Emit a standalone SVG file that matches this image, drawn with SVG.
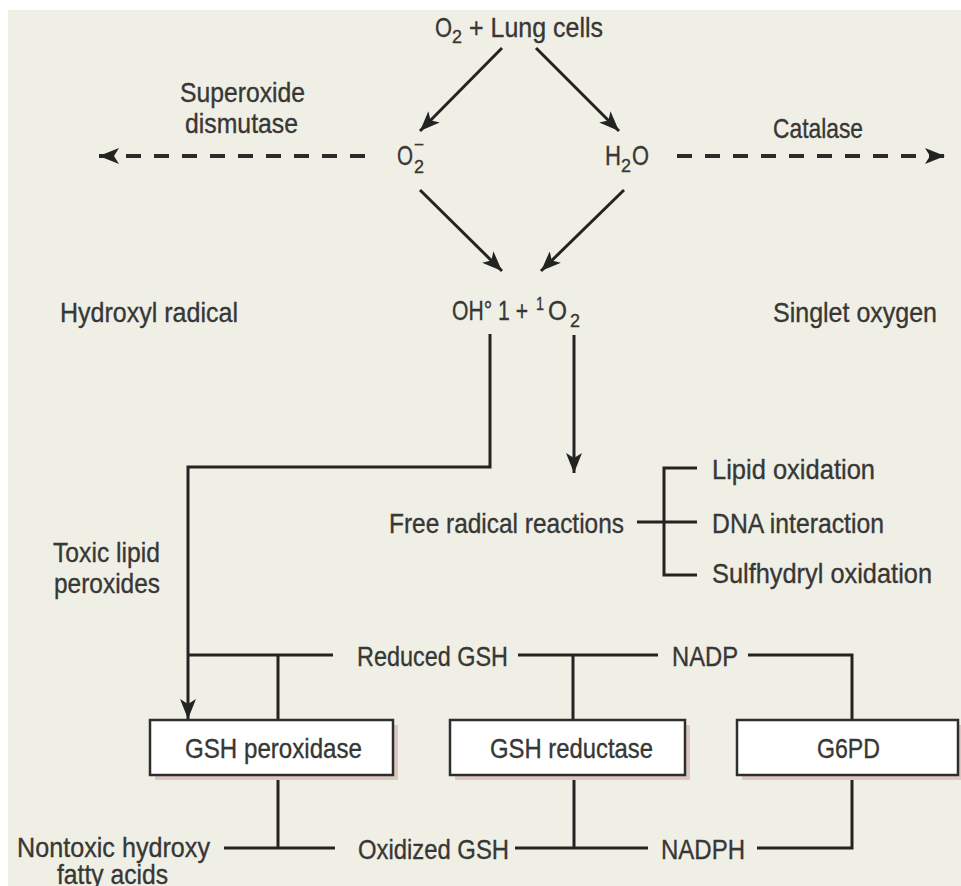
<svg xmlns="http://www.w3.org/2000/svg" width="961" height="886" viewBox="0 0 961 886">
  <defs>
    <style>
      .t { font-family: "Liberation Sans", Arial, sans-serif; font-size: 28px; fill: #373735; stroke: #373735; stroke-width: 0.35px; }
      .s { font-size: 19px; }
      .ln { fill: none; stroke: #232321; stroke-width: 3; }
      .dash { fill: none; stroke: #2a2a28; stroke-width: 4; stroke-dasharray: 15 13; }
      .box { fill: #ffffff; stroke: #2e2e2c; stroke-width: 2.5; }
      .shadow { fill: #dcc7c2; }
    </style>
    <marker id="ah" viewBox="0 0 20 16" refX="20" refY="8" markerWidth="20" markerHeight="16" orient="auto" markerUnits="userSpaceOnUse">
      <path d="M0,0 L20,8 L0,16 L5,8 z" fill="#232321"/>
    </marker>
  </defs>

  <!-- page -->
  <rect x="0" y="0" width="961" height="886" fill="#ffffff"/>
  <rect x="8" y="10" width="953" height="876" fill="#f0efe6"/>

  <!-- connectors -->
  <g id="connectors">
    <path class="ln" d="M502,48 L420,131" marker-end="url(#ah)"/>
    <path class="ln" d="M536,48 L619,131" marker-end="url(#ah)"/>
    <path class="ln" d="M420,190 L502,271" marker-end="url(#ah)"/>
    <path class="ln" d="M624,190 L541,271" marker-end="url(#ah)"/>
    <path class="dash" d="M365,156 L99,156" marker-end="url(#ah)"/>
    <path class="dash" d="M677,156 L945,156" marker-end="url(#ah)"/>
    <path class="ln" d="M574,335 L574,473" marker-end="url(#ah)"/>
    <path class="ln" d="M490,334 L490,467 L188,467 L188,719" marker-end="url(#ah)"/>
    <!-- free radical bracket -->
    <path class="ln" d="M637,522 L697,522"/>
    <path class="ln" d="M697,468 L664,468 L664,575 L697,575"/>
    <!-- reduced GSH / NADP line -->
    <path class="ln" d="M188,655 L333,655"/>
    <path class="ln" d="M278,655 L278,720"/>
    <path class="ln" d="M518,655 L658,655"/>
    <path class="ln" d="M573,655 L573,720"/>
    <path class="ln" d="M748,655 L852,655 L852,720"/>
    <!-- oxidized GSH / NADPH line -->
    <path class="ln" d="M224,848 L335,848"/>
    <path class="ln" d="M278,775 L278,848"/>
    <path class="ln" d="M515,848 L648,848"/>
    <path class="ln" d="M574,775 L574,848"/>
    <path class="ln" d="M757,848 L852,848 L852,775"/>
  </g>

  <!-- top reactants -->
  <g id="o2-lung">
    <text class="t" x="435" y="37" textLength="17" lengthAdjust="spacingAndGlyphs">O</text>
    <text class="t s" x="452" y="43" textLength="10" lengthAdjust="spacingAndGlyphs">2</text>
    <text class="t" x="469" y="37" textLength="134" lengthAdjust="spacingAndGlyphs">+ Lung cells</text>
  </g>
  <g id="superoxide">
    <text class="t" x="397" y="165" textLength="16" lengthAdjust="spacingAndGlyphs">O</text>
    <text class="t s" x="414" y="173" textLength="10" lengthAdjust="spacingAndGlyphs">2</text>
    <text class="t s" x="414" y="151" textLength="10" lengthAdjust="spacingAndGlyphs">−</text>
  </g>
  <g id="water">
    <text class="t" x="605" y="165" textLength="16" lengthAdjust="spacingAndGlyphs">H</text>
    <text class="t s" x="621" y="172" textLength="10" lengthAdjust="spacingAndGlyphs">2</text>
    <text class="t" x="632" y="165" textLength="17" lengthAdjust="spacingAndGlyphs">O</text>
  </g>
  <g id="sod">
    <text class="t" x="180" y="102" textLength="125" lengthAdjust="spacingAndGlyphs">Superoxide</text>
    <text class="t" x="185" y="133" textLength="113" lengthAdjust="spacingAndGlyphs">dismutase</text>
  </g>
  <g id="catalase">
    <text class="t" x="773" y="138" textLength="90" lengthAdjust="spacingAndGlyphs">Catalase</text>
  </g>

  <!-- radicals -->
  <g id="radicals">
    <text class="t" x="452" y="320" textLength="76" lengthAdjust="spacingAndGlyphs">OH° 1 +</text>
    <text class="t s" x="536" y="310" textLength="8" lengthAdjust="spacingAndGlyphs">1</text>
    <text class="t" x="548" y="320" textLength="19" lengthAdjust="spacingAndGlyphs">O</text>
    <text class="t s" x="570" y="327" textLength="10" lengthAdjust="spacingAndGlyphs">2</text>
  </g>
  <g id="hydroxyl">
    <text class="t" x="60" y="322" textLength="178" lengthAdjust="spacingAndGlyphs">Hydroxyl radical</text>
  </g>
  <g id="singlet">
    <text class="t" x="773" y="322" textLength="164" lengthAdjust="spacingAndGlyphs">Singlet oxygen</text>
  </g>

  <!-- free radical reactions -->
  <g id="free-radical">
    <text class="t" x="389" y="533" textLength="235" lengthAdjust="spacingAndGlyphs">Free radical reactions</text>
  </g>
  <g id="effects">
    <text class="t" x="712" y="479" textLength="163" lengthAdjust="spacingAndGlyphs">Lipid oxidation</text>
    <text class="t" x="712" y="533" textLength="172" lengthAdjust="spacingAndGlyphs">DNA interaction</text>
    <text class="t" x="712" y="583" textLength="220" lengthAdjust="spacingAndGlyphs">Sulfhydryl oxidation</text>
  </g>

  <g id="toxic">
    <text class="t" x="53" y="562" textLength="107" lengthAdjust="spacingAndGlyphs">Toxic lipid</text>
    <text class="t" x="54" y="593" textLength="106" lengthAdjust="spacingAndGlyphs">peroxides</text>
  </g>

  <!-- glutathione cycle -->
  <g id="reduced-gsh">
    <text class="t" x="357" y="666" textLength="151" lengthAdjust="spacingAndGlyphs">Reduced GSH</text>
  </g>
  <g id="nadp">
    <text class="t" x="672" y="666" textLength="66" lengthAdjust="spacingAndGlyphs">NADP</text>
  </g>

  <g id="gsh-peroxidase">
    <rect class="shadow" x="155" y="725" width="243" height="55"/>
    <rect class="box" x="150" y="720" width="243" height="55"/>
    <text class="t" x="185" y="758" textLength="177" lengthAdjust="spacingAndGlyphs">GSH peroxidase</text>
  </g>
  <g id="gsh-reductase">
    <rect class="shadow" x="455" y="725" width="235" height="55"/>
    <rect class="box" x="450" y="720" width="235" height="55"/>
    <text class="t" x="490" y="758" textLength="163" lengthAdjust="spacingAndGlyphs">GSH reductase</text>
  </g>
  <g id="g6pd">
    <rect class="shadow" x="742" y="725" width="221" height="55"/>
    <rect class="box" x="737" y="720" width="221" height="55"/>
    <text class="t" x="817" y="758" textLength="63" lengthAdjust="spacingAndGlyphs">G6PD</text>
  </g>

  <g id="nontoxic">
    <text class="t" x="17" y="857" textLength="193" lengthAdjust="spacingAndGlyphs">Nontoxic hydroxy</text>
    <text class="t" x="57" y="884" textLength="111" lengthAdjust="spacingAndGlyphs">fatty acids</text>
  </g>
  <g id="oxidized-gsh">
    <text class="t" x="358" y="859" textLength="151" lengthAdjust="spacingAndGlyphs">Oxidized GSH</text>
  </g>
  <g id="nadph">
    <text class="t" x="661" y="859" textLength="84" lengthAdjust="spacingAndGlyphs">NADPH</text>
  </g>
</svg>
